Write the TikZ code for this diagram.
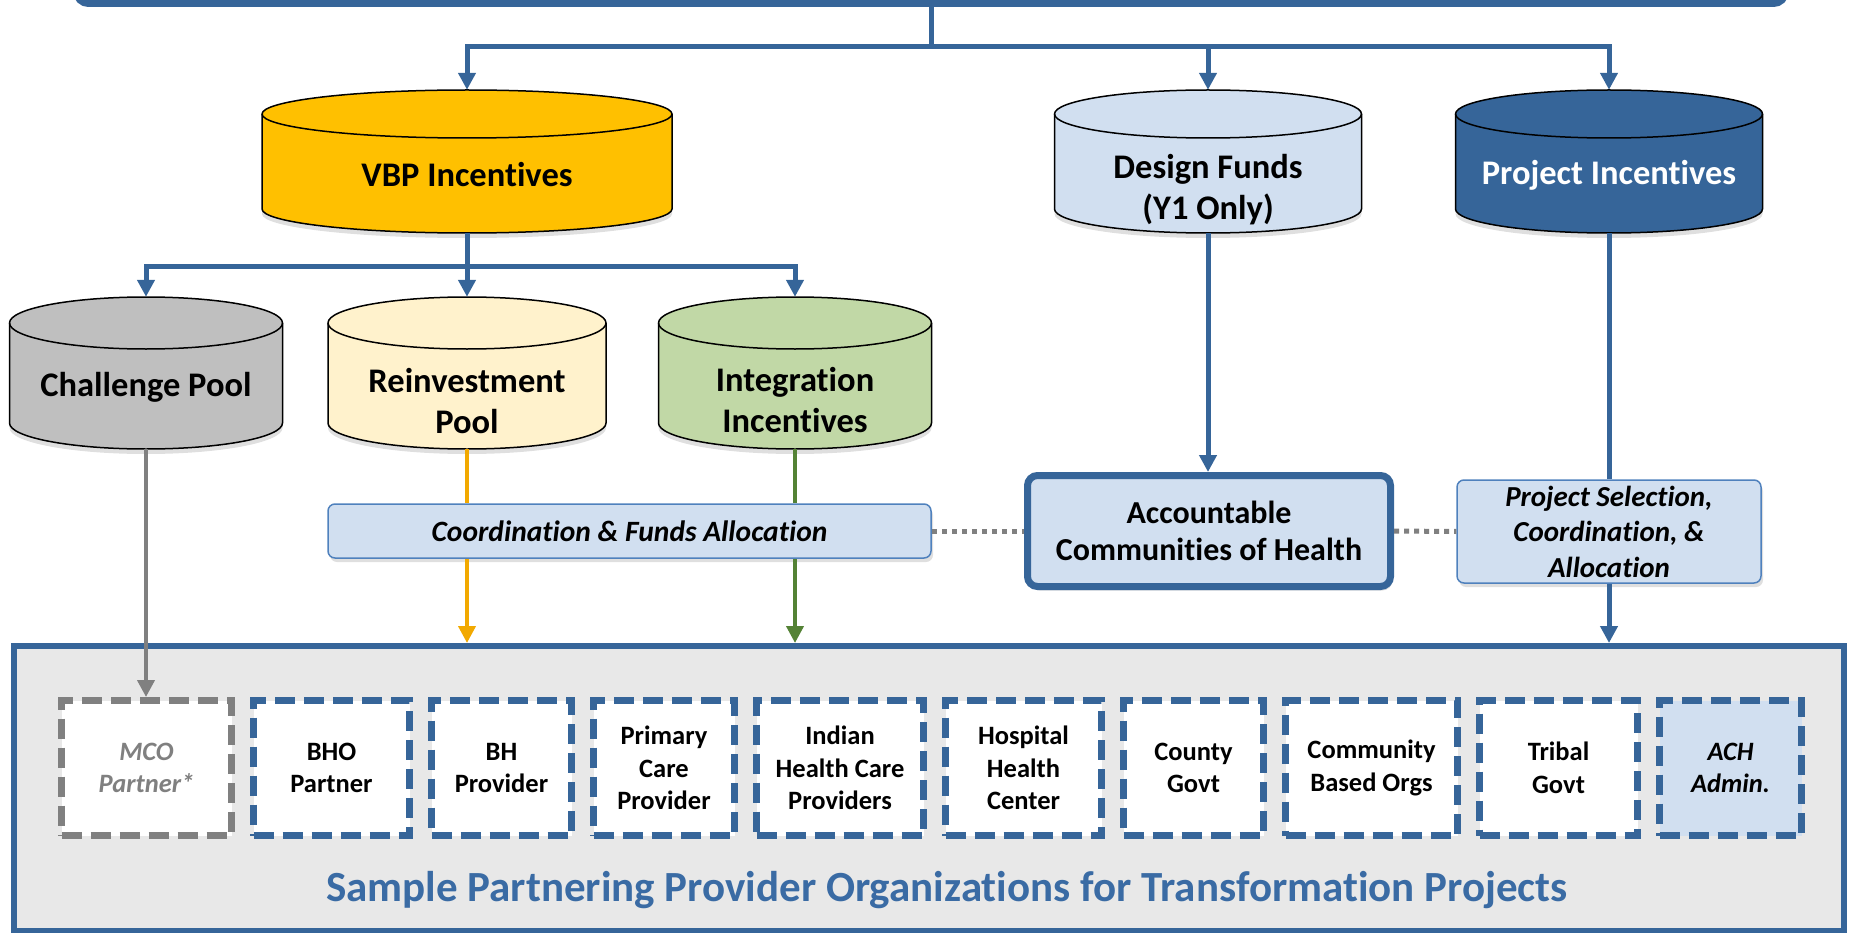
\documentclass[tikz,border=0pt]{standalone}
\usepackage{fontspec}
\setmainfont[Ligatures={NoCommon,NoContextual,NoRare}]{Carlito}
\usetikzlibrary{
  arrows.meta, % for the arrow heads
  positioning,
  shadows,
}
\definecolor{acc}{RGB}{54,101,153}
\definecolor{paleblue}{RGB}{209,223,240}
\definecolor{edgeblue}{RGB}{79,129,189}
\definecolor{gold}{RGB}{255,192,0}
\definecolor{cream}{RGB}{255,242,204}
\definecolor{sage}{RGB}{193,216,166}
\definecolor{stone}{RGB}{191,191,191}
\definecolor{amber}{RGB}{242,169,0}
\definecolor{leaf}{RGB}{84,130,53}
\definecolor{ash}{RGB}{128,128,128}
\definecolor{panel}{RGB}{232,232,232}
\definecolor{titleblue}{RGB}{58,107,164}

\tikzset{
  rim/.style={draw=black, line width=1.5pt},
  fund/.style={align=center, font=\fontsize{34.5}{41}\selectfont\bfseries},
  flow/.style={draw=acc, line width=5pt, -{Triangle[length=17pt, width=17pt]}},
  hub/.style={fill=paleblue, align=center, rounded corners=7pt,
    drop shadow={shadow xshift=2pt, shadow yshift=-4pt, opacity=.25}},
  org/.style={draw=acc, fill=white, line width=7pt, dash pattern=on 20pt off 9pt,
    minimum height=135pt, inner sep=0pt, align=center,
    font=\fontsize{26.5}{32.5}\selectfont\bfseries},
  dotlink/.style={draw=ash, line width=5pt, dash pattern=on 5pt off 5pt},
}

% name, x, y, half width, half height, end radius, fill
\newcommand\barrel[7]{%
  \node[minimum width=2*#4pt, minimum height=2*#5pt, inner sep=0pt] (#1) at (#2,#3) {};
  \path[rim, fill=#7, drop shadow={shadow xshift=0pt, shadow yshift=-5pt, opacity=.25}]
    ({#2-#4},{#3-#5+#6}) -- ({#2-#4},{#3+#5-#6})
    arc[start angle=180, end angle=360, x radius=#4pt, y radius=#6pt]
    -- ({#2+#4},{#3-#5+#6})
    arc[start angle=0, end angle=180, x radius=#4pt, y radius=#6pt] -- cycle;
  \draw[rim] ({#2-#4},{#3-#5+#6}) arc[start angle=180, end angle=360, x radius=#4pt, y radius=#6pt];
}

\begin{document}
\begin{tikzpicture}[x=1pt, y=-1pt]
\useasboundingbox (0,0) rectangle (1851,933);
% frame at the top, cut by the page
\node[draw=acc, line width=7pt, rounded corners=12pt, minimum width=1709pt, minimum height=100pt] (board) at (931,-46.5) {};

% funds
\barrel{vbp}{467}{161.5}{205}{71.5}{24}{gold}
\node[fund] (vbpt) at (467,175) {VBP Incentives};
\barrel{design}{1208}{161.5}{153.5}{71.5}{24}{paleblue}
\node[fund] (designt) at (1208,190) {Design Funds\\(Y1 Only)};
\barrel{proj}{1609}{161.5}{153.5}{71.5}{24}{acc}
\node[fund, text=white] (projt) at (1609,175) {Project Incentives};

\barrel{chal}{146}{373}{136.5}{76}{26}{stone}
\node[fund] (chalt) at (146,387) {Challenge Pool};
\barrel{reinv}{467}{373}{139}{76}{26}{cream}
\node[fund] (reinvt) at (467,401) {Reinvestment\\Pool};
\barrel{integ}{795}{373}{136.5}{76}{26}{sage}
\node[fund] (integt) at (795,400) {Integration\\Incentives};

% coordination
\node[hub, draw=edgeblue, line width=1.5pt, minimum width=603pt, minimum height=54pt,
  font=\fontsize{29.5}{34}\selectfont\bfseries\itshape] (coord) at (629.5,531) {Coordination \& Funds Allocation};
\node[hub, draw=acc, line width=7pt, rounded corners=10pt, minimum width=363pt, minimum height=111pt,
  font=\fontsize{32}{37}\selectfont\bfseries] (ach) at (1209,531) {Accountable\\Communities of Health};
\node[hub, draw=edgeblue, line width=1.5pt, minimum width=304pt, minimum height=103pt,
  font=\fontsize{29}{35.5}\selectfont\bfseries\itshape] (psel) at (1609,531.5) {Project Selection,\\Coordination, \&\\Allocation};

% partner organizations
\node[draw=acc, line width=6pt, fill=panel, minimum width=1830pt, minimum height=285pt] (prov) at (929,788.5) {};
\node[text=titleblue, font=\fontsize{43}{50}\selectfont\bfseries] (provt) at (947,890) {Sample Partnering Provider Organizations for Transformation Projects};

\node[org, draw=ash, text=ash, minimum width=170pt,
  font=\fontsize{26.5}{32.5}\selectfont\bfseries\itshape] (mco) at (146.5,768) {MCO\\Partner*};
\node[org, minimum width=156pt, right=15pt of mco] (bho) {BHO\\Partner};
\node[org, minimum width=140pt, right=15pt of bho] (bh) {BH\\Provider};
\node[org, minimum width=141pt, right=15pt of bh] (pcp) {Primary\\Care\\Provider};
\node[org, minimum width=167pt, right=15pt of pcp] (ihcp) {Indian\\Health Care\\Providers};
\node[org, minimum width=156pt, right=15pt of ihcp] (hosp) {Hospital\\Health\\Center};
\node[org, minimum width=140pt, right=15pt of hosp] (cty) {County\\Govt};
\node[org, minimum width=172pt, right=15pt of cty] (cbo) {Community\\Based Orgs};
\node[org, minimum width=158pt, right=15pt of cbo] (tribe) {Tribal\\Govt};
\node[org, fill=paleblue, minimum width=142pt, right=15pt of tribe,
  font=\fontsize{26.5}{32.5}\selectfont\bfseries\itshape] (achadm) {ACH\\Admin.};

% connectors
\coordinate (bus) at (931,47);
\coordinate (vbus) at (467,266);
\draw[flow] (board.south) -- (bus) -| (vbp.north);
\draw[flow] (bus) -| (design.north);
\draw[flow] (bus) -| (proj.north);
\draw[flow] (vbp.south) -- (vbus) -| (chal.north);
\draw[flow] (vbus) -- (reinv.north);
\draw[flow] (vbus) -| (integ.north);

\draw[flow, draw=ash, line width=4pt] (chal.south) -- (chal.south |- mco.north);
\draw[flow, draw=amber, line width=4pt, -] (reinv.south) -- (reinv.south |- coord.north);
\draw[flow, draw=amber, line width=4pt] (reinv.south |- coord.south) -- (reinv.south |- prov.north);
\draw[flow, draw=leaf, line width=4pt, -] (integ.south) -- (integ.south |- coord.north);
\draw[flow, draw=leaf, line width=4pt] (integ.south |- coord.south) -- (integ.south |- prov.north);
\draw[flow] (design.south) -- (design.south |- ach.north);
\draw[flow, -] (proj.south) -- (proj.south |- psel.north);
\draw[flow] (proj.south |- psel.south) -- (proj.south |- prov.north);
\draw[dotlink] (coord.east) -- (ach.west);
\draw[dotlink] (ach.east) -- (psel.west);
\end{tikzpicture}
\end{document}
